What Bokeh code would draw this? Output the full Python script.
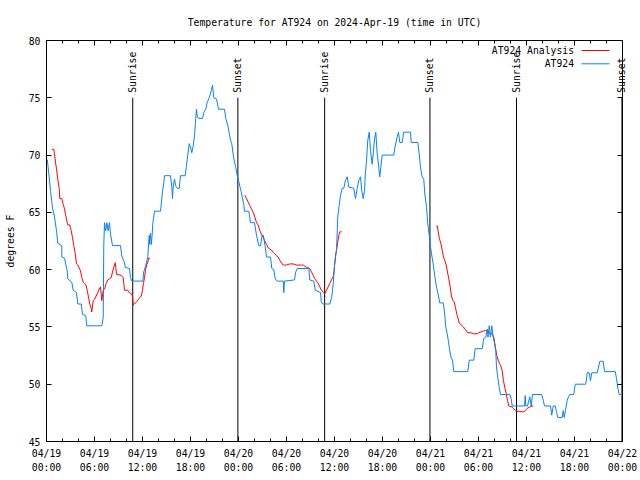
import math
from bokeh.plotting import figure
from bokeh.models import Range1d, FixedTicker, LinearAxis, Label, Arrow
from bokeh.core.properties import value
from bokeh.embed import file_html
from bokeh.resources import INLINE

TITLE = "Temperature for AT924 on 2024-Apr-19 (time in UTC)"
Y_LABEL = "degrees F"
SERIES_ANALYSIS = "AT924 Analysis"
SERIES_OBS = "AT924"

# x axis: hours since 2024-04-19 00:00 UTC
x_ticks = [0, 6, 12, 18, 24, 30, 36, 42, 48, 54, 60, 66, 72]
x_tick_labels = ["04/19\n00:00", "04/19\n06:00", "04/19\n12:00", "04/19\n18:00",
                 "04/20\n00:00", "04/20\n06:00", "04/20\n12:00", "04/20\n18:00",
                 "04/21\n00:00", "04/21\n06:00", "04/21\n12:00", "04/21\n18:00",
                 "04/22\n00:00"]
x_minor_ticks = list(range(0, 73, 2))
y_ticks = [45, 50, 55, 60, 65, 70, 75, 80]

sun_hours = [10.78, 23.92, 34.77, 47.93, 58.75, 71.93]
sun_labels = ["Sunrise", "Sunset", "Sunrise", "Sunset", "Sunrise", "Sunset"]
sun_line_bottom = 45
sun_line_top = 75

# observed temperature (hours, deg F)
obs = [(0.1,69.6),(0.33,68.1),(0.5,66.9),(0.75,65.4),(1.0,64.6),(1.25,63.4),(1.41,62.3),(1.91,62.1),(1.91,61.1),(2.25,61.0),
       (2.59,59.9),(2.66,59.2),(3.16,58.9),(3.34,58.2),(3.75,58.0),(3.91,57.0),(4.34,57.0),(4.5,56.1),(4.91,56.0),(5.04,55.1),
       (6.91,55.1),(7.09,55.8),(7.16,62.1),(7.25,64.1),(7.4,63.4),(7.55,64.1),(7.7,63.4),(7.87,64.1),(8.0,63.1),(8.25,62.1),
       (9.25,62.1),(9.41,61.2),(9.75,60.6),(9.84,60.2),(10.37,60.1),(10.5,59.3),(10.66,59.0),(12.04,59.0),(12.16,59.8),(12.34,60.2),
       (12.66,61.1),(12.84,63.0),(12.9,62.2),(13.0,63.2),(13.1,62.2),(13.2,63.0),(13.3,64.1),(13.5,65.1),(14.25,65.1),(14.37,65.9),
       (14.5,66.8),(14.66,67.6),(14.75,68.2),(15.5,68.2),(15.66,67.3),(15.75,66.2),(15.84,67.3),(16.0,67.9),(16.16,67.3),(16.34,67.1),
       (16.59,67.1),(16.75,68.2),(17.34,68.2),(17.5,69.1),(17.66,70.0),(17.84,71.0),(18.0,70.7),(18.16,70.2),(18.34,70.8),(18.5,71.7),
       (18.66,73.2),(18.75,74.0),(18.84,73.4),(19.0,73.2),(19.5,73.2),(19.66,73.7),(19.91,74.0),(20.09,74.6),(20.34,75.0),(20.59,75.6),
       (20.75,76.1),(20.91,75.0),(21.25,74.9),(21.5,74.0),(22.25,74.0),(22.41,73.2),(22.66,72.6),(22.84,71.9),(23.0,71.3),(23.16,71.0),
       (23.34,70.0),(23.5,69.4),(23.66,68.9),(23.84,68.2),(24.0,67.8),(24.16,67.3),(24.34,66.8),(24.5,66.2),(24.66,65.7),(24.75,65.1),
       (25.29,65.1),(25.5,64.1),(26.0,64.1),(26.25,63.0),(26.54,62.1),(26.75,62.1),(26.96,63.0),(27.1,63.0),(27.34,62.0),(27.5,61.1),
       (28.0,61.1),(28.16,60.1),(28.41,60.0),(28.59,59.2),(28.84,59.0),(29.59,59.0),(29.66,58.0),(29.75,59.0),(31.0,59.1),(31.16,59.8),
       (31.34,60.1),(32.79,60.1),(32.91,59.1),(33.41,59.0),(33.59,58.2),(34.25,58.0),(34.34,57.2),(34.5,57.0),(35.41,57.0),(35.66,57.6),
       (35.84,58.8),(36.0,60.4),(36.25,61.7),(36.41,64.6),(36.59,65.6),(36.75,66.5),(36.96,67.1),(37.16,67.1),(37.37,67.8),(37.59,68.1),
       (37.79,67.2),(38.41,67.1),(38.62,66.2),(38.84,67.1),(39.04,67.8),(39.25,68.1),(39.41,66.9),(39.59,66.2),(39.75,66.9),(39.84,68.2),
       (40.0,69.5),(40.16,71.3),(40.34,72.0),(40.5,70.4),(40.71,69.2),(40.84,70.1),(41.0,71.4),(41.16,72.0),(41.34,70.1),(41.54,68.9),
       (41.66,68.1),(41.8,69.0),(41.96,70.0),(43.41,70.0),(43.59,70.8),(43.84,71.6),(44.0,72.0),(44.16,71.1),(44.46,71.1),(44.66,72.0),
       (45.5,72.0),(45.59,71.1),(46.41,71.1),(46.59,70.1),(46.75,68.9),(46.96,68.1),(47.16,67.9),(47.29,66.6),(47.5,65.5),(47.66,64.0),
       (47.84,63.0),(48.0,62.0),(48.12,61.4),(48.34,60.5),(48.5,59.6),(48.75,58.5),(49.0,57.7),(49.16,57.1),(49.59,57.1),(49.75,56.3),
       (49.91,55.0),(50.09,54.4),(50.25,53.7),(50.41,52.9),(50.59,52.3),(50.75,52.1),(50.91,51.1),(52.66,51.1),(52.84,52.1),(53.41,52.1),
       (53.59,53.1),(54.46,53.1),(54.66,54.0),(54.91,54.1),(55.09,54.8),(55.19,54.1),(55.34,55.1),(55.5,54.1),(55.66,55.1),(55.84,54.1),
       (56.0,53.6),(56.16,52.9),(56.25,51.5),(56.41,50.6),(56.59,49.7),(56.75,49.1),(57.91,49.1),(58.09,48.7),(58.21,48.1),(59.75,48.1),
       (59.84,49.0),(59.91,48.1),(60.12,48.1),(60.41,48.9),(60.59,48.1),(60.75,49.1),(61.91,49.1),(62.09,48.6),(62.25,48.1),(63.0,48.1),
       (63.16,47.3),(63.34,48.1),(63.59,48.1),(63.75,47.6),(63.91,47.1),(64.46,47.1),(64.59,47.7),(64.71,47.1),(64.87,47.7),(65.09,48.6),
       (65.25,48.9),(65.41,49.1),(65.91,49.1),(66.09,50.0),(67.41,50.0),(67.59,51.0),(67.84,51.0),(68.0,50.3),(68.16,51.0),(68.84,51.0),
       (69.0,51.5),(69.16,52.0),(69.59,52.0),(69.75,51.1),(71.09,51.1),(71.25,50.5),(71.41,49.7),(71.59,49.1),(71.84,49.1)]

# analysis runs (hours, deg F)
analysis_1 = [(0.66,70.5),(0.91,70.5),(1.0,70.1),(1.12,69.4),(1.25,68.8),(1.41,67.9),(1.59,67.1),(1.66,66.2),(1.91,66.2),(2.09,65.7),
              (2.25,65.3),(2.41,64.7),(2.59,64.1),(2.66,63.9),(2.91,63.9),(3.09,63.4),(3.25,62.8),(3.41,62.1),(3.59,61.4),(3.75,60.5),
              (3.91,60.4),(4.25,59.9),(4.41,59.3),(4.59,58.9),(4.75,58.8),(4.91,58.7),(5.09,58.2),(5.25,57.6),(5.41,57.0),(5.59,56.6),
              (5.66,56.3),(5.84,57.3),(6.0,57.4),(6.21,57.7),(6.41,58.0),(6.59,58.3),(6.75,58.5),(6.91,57.3),(7.09,58.2),(7.25,58.3),
              (7.46,58.8),(7.66,59.1),(7.87,59.2),(8.09,59.3),(8.25,59.8),(8.41,60.2),(8.59,60.6),(8.66,60.2),(8.75,59.6),(9.34,59.5),
              (9.59,59.3),(9.75,58.2),(10.16,58.2),(10.34,58.0),(10.59,57.9),(10.75,57.7),(10.84,56.9),(11.0,57.0),(11.25,57.2),(11.59,57.5),
              (11.84,57.7),(12.0,58.2),(12.12,58.8),(12.25,59.3),(12.37,59.9),(12.5,60.4),(12.66,60.6),(12.75,61.0),(12.94,61.0)]
analysis_2 = [(24.79,66.5),(25.0,66.2),(25.21,65.9),(25.41,65.6),(25.62,65.3),(25.84,65.0),(26.04,64.6),(26.25,64.1),(26.46,63.9),(26.66,63.4),
              (26.87,63.1),(27.09,62.8),(27.29,62.5),(27.5,62.2),(27.71,61.9),(27.91,61.8),(28.12,61.7),(28.34,61.5),(28.54,61.4),(28.75,61.2),
              (28.96,61.1),(29.16,60.8),(29.37,60.6),(29.59,60.4),(30.0,60.4),(30.41,60.5),(30.84,60.5),(31.25,60.4),(31.87,60.4),(32.09,60.4),
              (32.5,60.2),(32.91,60.1),(33.12,59.8),(33.34,59.5),(33.54,59.2),(33.75,59.0),(33.96,58.8),(34.16,58.5),(34.37,58.2),(34.59,58.0),
              (34.79,57.9),(35.0,58.2),(35.21,58.5),(35.41,58.8),(35.62,59.1),(35.84,59.4),(35.96,59.9),(36.04,60.6),(36.16,61.4),(36.25,61.7),
              (36.41,62.4),(36.54,63.0),(36.66,63.3),(36.91,63.3)]
analysis_3 = [(48.71,63.8),(48.87,63.8),(48.96,63.3),(49.12,62.7),(49.29,62.3),(49.46,61.7),(49.62,61.1),(49.79,60.8),(49.96,60.4),(50.12,59.8),
              (50.29,59.2),(50.46,58.5),(50.62,57.7),(50.79,57.3),(50.96,57.2),(51.12,56.7),(51.29,56.1),(51.46,55.7),(51.62,55.3),(51.79,55.2),
              (51.96,55.1),(52.12,55.0),(52.29,54.8),(52.46,54.7),(52.62,54.5),(53.0,54.5),(53.41,54.4),(53.84,54.4),(54.04,54.5),(54.46,54.6),
              (54.87,54.7),(55.09,54.7),(55.29,54.5),(55.71,54.4),(55.91,54.1),(56.12,53.2),(56.29,52.5),(56.46,52.1),(56.62,51.8),(56.79,51.6),
              (56.96,51.2),(57.12,50.3),(57.29,49.7),(57.46,49.2),(57.62,48.6),(57.79,48.1),(58.21,48.0),(58.62,47.7),(59.04,47.6),(59.66,47.6),
              (59.87,47.7),(60.09,47.9),(60.41,48.0),(60.71,48.1),(60.84,48.1)]

FONT = "DejaVu Sans Mono"
FS = "9.75px"
RED = "#ff0000"
BLUE = "#0a80f5"

p = figure(width=640, height=480, output_backend="svg", toolbar_location=None,
           x_range=Range1d(0, 72), y_range=Range1d(45, 80), title=TITLE,
           min_border_left=46, min_border_right=18, min_border_top=40, min_border_bottom=39)
p.background_fill_color = "white"
p.border_fill_color = "white"
p.outline_line_color = "black"
p.outline_line_alpha = 1
p.grid.visible = False

p.title.align = "center"
p.title.text_font = FONT
p.title.text_font_size = FS
p.title.text_font_style = "normal"
p.title.text_color = "black"
p.title.standoff = 25

def style_axis(ax):
    ax.axis_line_color = "black"
    ax.major_tick_line_color = "black"
    ax.minor_tick_line_color = "black"
    ax.major_tick_out = 0
    ax.minor_tick_out = 0
    ax.major_label_text_font = FONT
    ax.major_label_text_font_size = FS
    ax.major_label_text_color = "black"

xax = p.xaxis[0]
xax.ticker = FixedTicker(ticks=x_ticks, minor_ticks=x_minor_ticks)
xax.major_label_overrides = dict(zip(x_ticks, x_tick_labels))
style_axis(xax)
xax.major_tick_in = 5
xax.minor_tick_in = 3
xax.major_label_standoff = 6
xax.major_label_text_line_height = 1.3

yax = p.yaxis[0]
yax.ticker = FixedTicker(ticks=y_ticks, minor_ticks=[])
style_axis(yax)
yax.major_tick_in = 5
yax.major_label_standoff = 6
yax.axis_label = Y_LABEL
yax.axis_label_text_font = FONT
yax.axis_label_text_font_size = FS
yax.axis_label_text_font_style = "normal"
yax.axis_label_text_color = "black"
yax.axis_label_standoff = 10

top = LinearAxis(ticker=FixedTicker(ticks=x_ticks, minor_ticks=x_minor_ticks),
                 major_label_overrides={t: "" for t in x_ticks})
style_axis(top)
top.major_tick_in = 5
top.minor_tick_in = 3
top.major_label_standoff = 0
top.major_label_text_font_size = "0px"
p.add_layout(top, "above")

right = LinearAxis(ticker=FixedTicker(ticks=y_ticks, minor_ticks=[]),
                   major_label_overrides={t: "" for t in y_ticks})
style_axis(right)
right.major_tick_in = 5
right.major_label_standoff = 0
right.major_label_text_font_size = "0px"
p.add_layout(right, "right")

# sunrise / sunset markers
p.segment(x0=sun_hours, y0=[sun_line_bottom] * len(sun_hours),
          x1=sun_hours, y1=[sun_line_top] * len(sun_hours),
          line_color="black", line_width=1)
sun_text = p.text(x=sun_hours, y=[sun_line_top] * len(sun_hours), text=sun_labels,
                  angle=math.pi / 2, text_align="left", text_baseline="middle", y_offset=-5,
                  text_font=value(FONT), text_font_size=FS, text_color="black")
sun_text.level = "overlay"

# series
for seg in (analysis_1, analysis_2, analysis_3):
    p.line([h for h, t in seg], [t for h, t in seg], line_color=RED, line_width=1)
p.line([h for h, t in obs], [t for h, t in obs], line_color=BLUE, line_width=1)

# key (text left, sample right, as in the original)
for name, color, ky in ((SERIES_ANALYSIS, RED, 391), (SERIES_OBS, BLUE, 377.7)):
    p.add_layout(Label(x=527.5, y=ky, x_units="screen", y_units="screen", text=name,
                       text_align="right", text_baseline="middle",
                       text_font=FONT, text_font_size=FS, text_color="black"))
    p.add_layout(Arrow(x_start=535, y_start=ky, x_end=563, y_end=ky,
                       start_units="screen", end_units="screen", start=None, end=None,
                       line_color=color, line_width=1))

open("out.html", "w").write(file_html(p, INLINE))
